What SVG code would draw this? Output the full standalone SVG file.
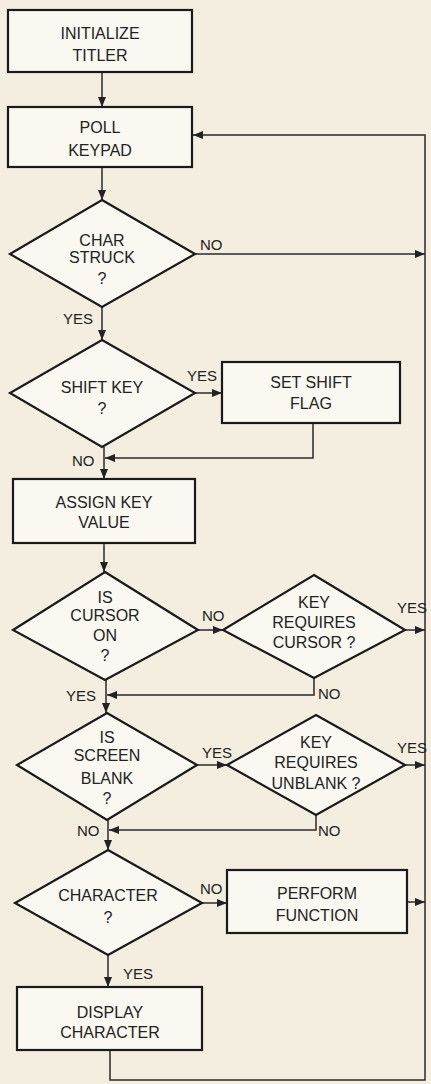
<svg xmlns="http://www.w3.org/2000/svg" width="431" height="1084" viewBox="0 0 431 1084">
<defs>
<marker id="ah" markerUnits="userSpaceOnUse" markerWidth="10" markerHeight="8" refX="10" refY="4" orient="auto">
<path d="M0,0 L10,4 L0,8 Z" fill="#222"/>
</marker>
<style>
.n{fill:#faf8f1;stroke:#1a1a1a;stroke-width:2.2}
.t{font-family:"Liberation Sans",Arial,sans-serif;font-size:16px;fill:#222;text-anchor:middle}
.l{font-family:"Liberation Sans",Arial,sans-serif;font-size:15px;fill:#222}
.c{fill:none;stroke:#2a2a2a;stroke-width:1.5}
</style>
</defs>
<rect width="431" height="1084" fill="#f3eedf"/>
<g id="connectors">
<path class="c" d="M102,72 V107" marker-end="url(#ah)"/>
<path class="c" d="M102,167 V200" marker-end="url(#ah)"/>
<path class="c" d="M195,254 H425" marker-end="url(#ah)"/>
<path class="c" d="M110,1050 V1080 H425 V135 H193" marker-end="url(#ah)"/>
<path class="c" d="M102,307 V340" marker-end="url(#ah)"/>
<path class="c" d="M195,393 H222" marker-end="url(#ah)"/>
<path class="c" d="M313,423 V458 H105" marker-end="url(#ah)"/>
<path class="c" d="M104,447 V479" marker-end="url(#ah)"/>
<path class="c" d="M104,543 V572" marker-end="url(#ah)"/>
<path class="c" d="M198,630 H223" marker-end="url(#ah)"/>
<path class="c" d="M405,630 H425" marker-end="url(#ah)"/>
<path class="c" d="M314,678 V695 H107" marker-end="url(#ah)"/>
<path class="c" d="M106,680 V713" marker-end="url(#ah)"/>
<path class="c" d="M197,765 H227" marker-end="url(#ah)"/>
<path class="c" d="M405,765 H425" marker-end="url(#ah)"/>
<path class="c" d="M316,815 V830 H109" marker-end="url(#ah)"/>
<path class="c" d="M108,820 V850" marker-end="url(#ah)"/>
<path class="c" d="M202,903 H227" marker-end="url(#ah)"/>
<path class="c" d="M407,902 H425" marker-end="url(#ah)"/>
<path class="c" d="M108,955 V987" marker-end="url(#ah)"/>
</g>
<g id="labels">
<text class="l" x="200" y="250">NO</text>
<text class="l" x="63" y="324">YES</text>
<text class="l" x="187" y="381">YES</text>
<text class="l" x="72" y="466">NO</text>
<text class="l" x="202" y="621">NO</text>
<text class="l" x="397" y="613">YES</text>
<text class="l" x="318" y="699">NO</text>
<text class="l" x="66" y="701">YES</text>
<text class="l" x="202" y="758">YES</text>
<text class="l" x="397" y="753">YES</text>
<text class="l" x="318" y="836">NO</text>
<text class="l" x="77" y="836">NO</text>
<text class="l" x="200" y="894">NO</text>
<text class="l" x="123" y="979">YES</text>
</g>
<g id="init">
<rect class="n" x="8" y="10" width="184" height="62"/>
<text class="t" x="100" y="39">INITIALIZE</text>
<text class="t" x="100" y="61">TITLER</text>
</g>
<g id="poll">
<rect class="n" x="8" y="107" width="184" height="60"/>
<text class="t" x="100" y="133">POLL</text>
<text class="t" x="100" y="156">KEYPAD</text>
</g>
<g id="charstruck">
<polygon class="n" points="102,200 195,254 102,307 10,254"/>
<text class="t" x="102" y="246">CHAR</text>
<text class="t" x="102" y="263">STRUCK</text>
<text class="t" x="102" y="284">?</text>
</g>
<g id="shiftkey">
<polygon class="n" points="102,340 195,393 102,447 10,393"/>
<text class="t" x="102" y="393">SHIFT KEY</text>
<text class="t" x="102" y="414">?</text>
</g>
<g id="setshift">
<rect class="n" x="222" y="362" width="178" height="61"/>
<text class="t" x="311" y="388">SET SHIFT</text>
<text class="t" x="311" y="409">FLAG</text>
</g>
<g id="assign">
<rect class="n" x="13" y="479" width="182" height="64"/>
<text class="t" x="104" y="508">ASSIGN KEY</text>
<text class="t" x="104" y="528">VALUE</text>
</g>
<g id="cursoron">
<polygon class="n" points="105,572 198,630 105,680 13,630"/>
<text class="t" x="105" y="603">IS</text>
<text class="t" x="105" y="621">CURSOR</text>
<text class="t" x="105" y="641">ON</text>
<text class="t" x="105" y="661">?</text>
</g>
<g id="reqcursor">
<polygon class="n" points="314,575 405,630 314,678 223,630"/>
<text class="t" x="314" y="608">KEY</text>
<text class="t" x="314" y="628">REQUIRES</text>
<text class="t" x="314" y="648">CURSOR ?</text>
</g>
<g id="screenblank">
<polygon class="n" points="107,713 197,765 107,820 17,765"/>
<text class="t" x="107" y="743">IS</text>
<text class="t" x="107" y="761">SCREEN</text>
<text class="t" x="107" y="784">BLANK</text>
<text class="t" x="107" y="804">?</text>
</g>
<g id="requnblank">
<polygon class="n" points="316,715 405,765 316,815 227,765"/>
<text class="t" x="316" y="748">KEY</text>
<text class="t" x="316" y="768">REQUIRES</text>
<text class="t" x="316" y="789">UNBLANK ?</text>
</g>
<g id="character">
<polygon class="n" points="108,850 202,903 108,955 15,903"/>
<text class="t" x="108" y="901">CHARACTER</text>
<text class="t" x="108" y="923">?</text>
</g>
<g id="perform">
<rect class="n" x="227" y="870" width="180" height="63"/>
<text class="t" x="317" y="899">PERFORM</text>
<text class="t" x="317" y="921">FUNCTION</text>
</g>
<g id="display">
<rect class="n" x="17" y="987" width="185" height="63"/>
<text class="t" x="110" y="1018">DISPLAY</text>
<text class="t" x="110" y="1038">CHARACTER</text>
</g>
</svg>
